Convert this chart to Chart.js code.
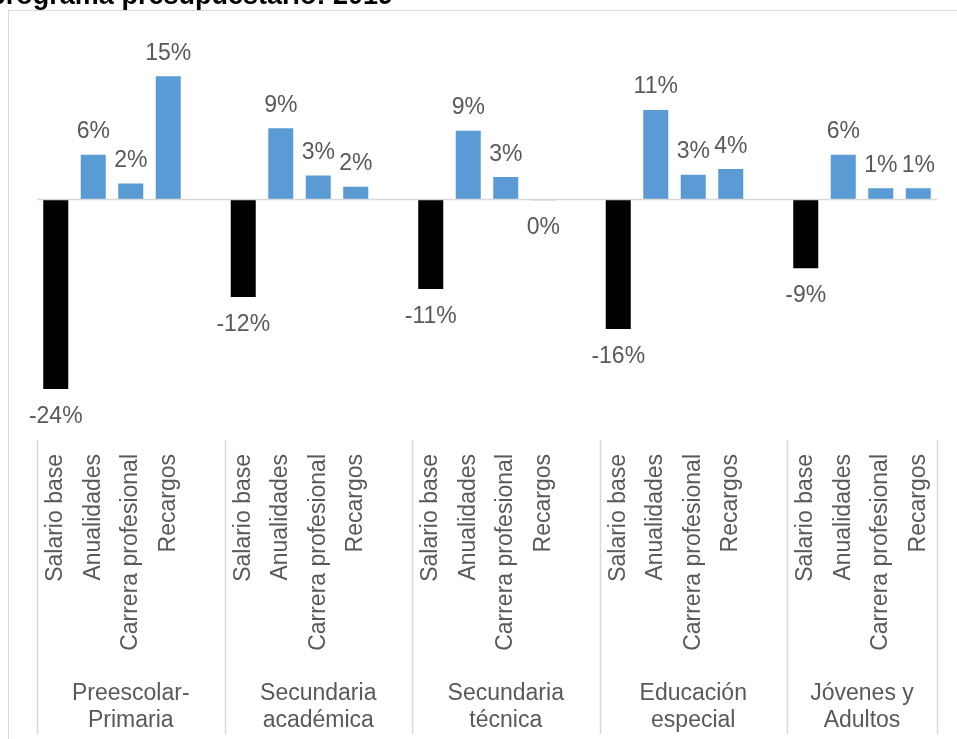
<!DOCTYPE html>
<html lang="es">
<head>
<meta charset="utf-8">
<title>Programa presupuestario 2019</title>
<script src="https://cdn.jsdelivr.net/npm/chart.js@4.4.0/dist/chart.umd.min.js"></script>
<style>
  html, body { margin: 0; padding: 0; background: #fff; overflow: hidden; }
  #grafico { display: block; }
</style>
</head>
<body>
<canvas id="grafico" width="957" height="739"></canvas>
<script>
// Rubros y programas
const rubros = ['Salario base', 'Anualidades', 'Carrera profesional', 'Recargos'];
const programas = [
    ['Preescolar-', 'Primaria'],
    ['Secundaria', 'académica'],
    ['Secundaria', 'técnica'],
    ['Educación', 'especial'],
    ['Jóvenes y', 'Adultos']
];

// Variación porcentual por rubro (mismo orden que rubros)
const preescolarPrimaria = [-23.7, 5.6, 2.0, 15.4];
const secundariaAcademica = [-12.2, 8.9, 3.0, 1.6];
const secundariaTecnica = [-11.2, 8.6, 2.8, -0.1];
const educacionEspecial = [-16.2, 11.2, 3.1, 3.8];
const jovenesAdultos = [-8.6, 5.6, 1.4, 1.4];

const titulo = 'programa presupuestario: 2019';

const FUENTE = '"Liberation Sans", Arial, sans-serif';
const GRIS_TEXTO = '#595959';
const GRIS_LINEA = '#d9d9d9';
const AZUL = '#5b9bd5';

// Cada programa ocupa 4 rubros + una columna vacía de separación (menos el último)
const series = [preescolarPrimaria, secundariaAcademica, secundariaTecnica, educacionEspecial, jovenesAdultos];
const etiquetas = [];
const valores = [];
const colores = [];
const inicioGrupo = [];
series.forEach((serie, g) => {
    inicioGrupo.push(etiquetas.length);
    serie.forEach((v, i) => {
        etiquetas.push(rubros[i]);
        valores.push(v);
        colores.push(i === 0 ? '#000000' : AZUL);
    });
    if (g < series.length - 1) {
        etiquetas.push('');
        valores.push(null);
        colores.push(AZUL);
    }
});

// Dibujo del título, marco, eje en cero, etiquetas y separadores
const decoraciones = {
    id: 'decoraciones',
    beforeDraw(chart) {
        const ctx = chart.ctx;
        ctx.save();
        ctx.strokeStyle = GRIS_LINEA;
        ctx.lineWidth = 1;
        ctx.strokeRect(8.5, 10.5, 1200, 1200);

        ctx.fillStyle = '#000';
        ctx.font = 'bold 27px ' + FUENTE;
        ctx.textAlign = 'right';
        ctx.textBaseline = 'alphabetic';
        ctx.fillText(titulo, 393, 4);
        ctx.restore();
    },
    afterDatasetsDraw(chart) {
        const ctx = chart.ctx;
        const x = chart.scales.x;
        const y = chart.scales.y;
        const area = chart.chartArea;
        const y0 = y.getPixelForValue(0);

        ctx.save();
        // línea del cero
        ctx.strokeStyle = GRIS_LINEA;
        ctx.lineWidth = 1.5;
        ctx.beginPath();
        ctx.moveTo(area.left, y0);
        ctx.lineTo(area.right, y0);
        ctx.stroke();

        // etiquetas de datos
        ctx.fillStyle = GRIS_TEXTO;
        ctx.font = '23px ' + FUENTE;
        ctx.textAlign = 'center';
        ctx.textBaseline = 'alphabetic';
        const meta = chart.getDatasetMeta(0);
        meta.data.forEach((barra, i) => {
            const v = valores[i];
            if (v === null) return;
            const texto = String(Math.round(v) || 0) + '%';
            const yy = v >= 0 ? barra.y - 16.5 : barra.y + 34;
            ctx.fillText(texto, barra.x, yy);
        });

        // rubros en vertical
        etiquetas.forEach((et, i) => {
            if (!et) return;
            ctx.save();
            ctx.translate(x.getPixelForValue(i), 454);
            ctx.rotate(-Math.PI / 2);
            ctx.textAlign = 'right';
            ctx.textBaseline = 'middle';
            ctx.fillText(et, 0, 0);
            ctx.restore();
        });

        // separadores de programas y nombres
        const medio = (x.getPixelForValue(1) - x.getPixelForValue(0)) / 2;
        const bordes = inicioGrupo.map(i => x.getPixelForValue(i) - medio);
        bordes.push(area.right);
        ctx.strokeStyle = GRIS_LINEA;
        ctx.lineWidth = 1.5;
        bordes.forEach(b => {
            ctx.beginPath();
            ctx.moveTo(Math.round(b) + 0.5, 440);
            ctx.lineTo(Math.round(b) + 0.5, 734);
            ctx.stroke();
        });
        ctx.textAlign = 'center';
        ctx.textBaseline = 'alphabetic';
        programas.forEach((lineas, g) => {
            const cx = (bordes[g] + bordes[g + 1]) / 2;
            ctx.fillText(lineas[0], cx, 700);
            ctx.fillText(lineas[1], cx, 727);
        });
        ctx.restore();
    }
};

new Chart(document.getElementById('grafico'), {
    type: 'bar',
    data: {
        labels: etiquetas,
        datasets: [{
            data: valores,
            backgroundColor: colores,
            borderWidth: 0,
            barPercentage: 0.667,
            categoryPercentage: 1.0
        }]
    },
    options: {
        responsive: false,
        animation: false,
        layout: {
            padding: { left: 37, right: 20, top: 39.5, bottom: 299.5 }
        },
        plugins: {
            legend: { display: false },
            title: { display: false },
            tooltip: { enabled: false }
        },
        scales: {
            x: { display: false },
            y: { display: false, min: -30, max: 20 }
        }
    },
    plugins: [decoraciones]
});
</script>
</body>
</html>
